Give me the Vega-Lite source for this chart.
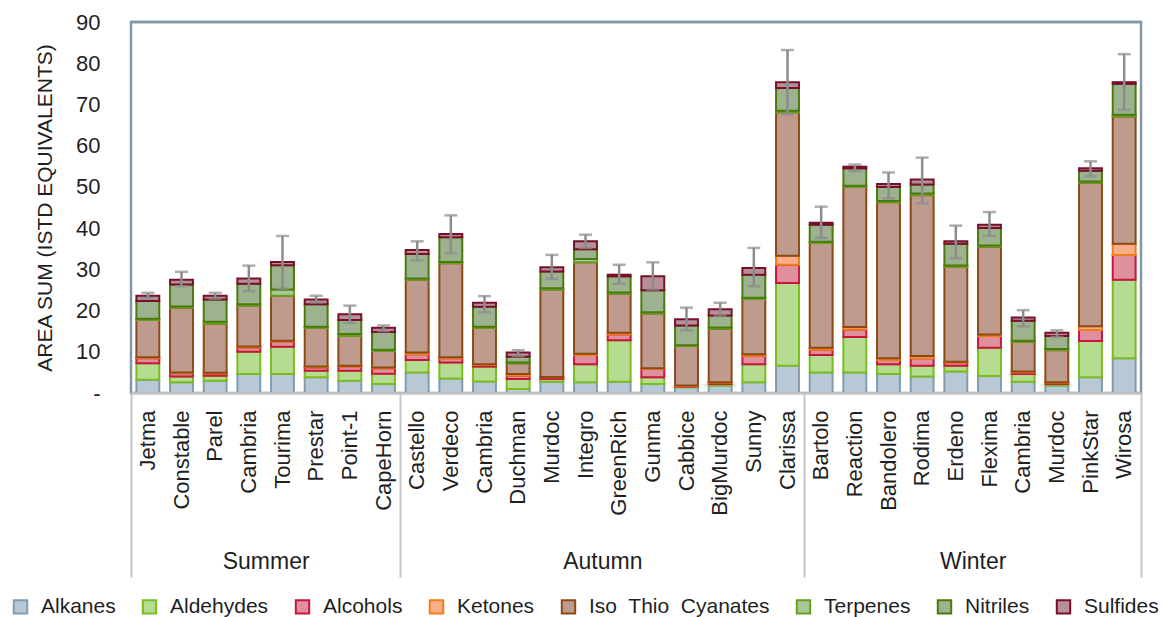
{
  "$schema": "https://vega.github.io/schema/vega-lite/v6.json",
  "width": 1010,
  "height": 371,
  "autosize": "none",
  "padding": {"left": 131, "top": 22, "right": 21, "bottom": 224},
  "background": "white",
  "config": {
    "font": "Liberation Sans",
    "view": {"stroke": "#8497a6", "strokeWidth": 2.5},
    "legend": {
      "orient": "none",
      "legendX": -121,
      "legendY": 574,
      "direction": "horizontal",
      "title": null,
      "padding": 0,
      "labelFontSize": 21,
      "labelColor": "#1f1f1f",
      "labelFont": "Liberation Sans",
      "symbolType": "square",
      "symbolSize": 180,
      "symbolStrokeWidth": 2,
      "labelOffset": 10,
      "columnPadding": 22,
      "labelLimit": 400
    }
  },
  "datasets": {
    "compounds": [
      {"compound": "Alkanes", "idx": 1},
      {"compound": "Aldehydes", "idx": 2},
      {"compound": "Alcohols", "idx": 3},
      {"compound": "Ketones", "idx": 4},
      {"compound": "Iso Thio Cyanates", "idx": 5},
      {"compound": "Terpenes", "idx": 6},
      {"compound": "Nitriles", "idx": 7},
      {"compound": "Sulfides", "idx": 8}
    ],
    "seasons": [
      {"season": "Summer", "start": 0, "end": 8},
      {"season": "Autumn", "start": 8, "end": 20},
      {"season": "Winter", "start": 20, "end": 30}
    ],
    "bars": [
      {"key": "Summer|Jetma", "season": "Summer", "Alkanes": 3.2, "Aldehydes": 4.0, "Alcohols": 1.2, "Ketones": 0.3, "Iso Thio Cyanates": 9.0, "Terpenes": 0.3, "Nitriles": 4.3, "Sulfides": 1.3, "lo": 23.0, "hi": 24.3},
      {"key": "Summer|Constable", "season": "Summer", "Alkanes": 2.6, "Aldehydes": 1.4, "Alcohols": 0.8, "Ketones": 0.2, "Iso Thio Cyanates": 15.7, "Terpenes": 0.3, "Nitriles": 5.3, "Sulfides": 1.2, "lo": 25.9, "hi": 29.4},
      {"key": "Summer|Parel", "season": "Summer", "Alkanes": 3.0, "Aldehydes": 1.2, "Alcohols": 0.5, "Ketones": 0.2, "Iso Thio Cyanates": 11.9, "Terpenes": 0.5, "Nitriles": 5.4, "Sulfides": 0.9, "lo": 22.9, "hi": 24.3},
      {"key": "Summer|Cambria", "season": "Summer", "Alkanes": 4.6, "Aldehydes": 5.4, "Alcohols": 1.0, "Ketones": 0.3, "Iso Thio Cyanates": 9.9, "Terpenes": 0.3, "Nitriles": 5.0, "Sulfides": 1.3, "lo": 24.7, "hi": 30.9},
      {"key": "Summer|Tourima", "season": "Summer", "Alkanes": 4.6, "Aldehydes": 6.6, "Alcohols": 1.3, "Ketones": 0.2, "Iso Thio Cyanates": 10.9, "Terpenes": 1.5, "Nitriles": 5.9, "Sulfides": 0.8, "lo": 25.3, "hi": 38.1},
      {"key": "Summer|Prestar", "season": "Summer", "Alkanes": 3.8, "Aldehydes": 1.6, "Alcohols": 0.8, "Ketones": 0.2, "Iso Thio Cyanates": 9.4, "Terpenes": 0.3, "Nitriles": 5.4, "Sulfides": 1.2, "lo": 22.0, "hi": 23.6},
      {"key": "Summer|Point-1", "season": "Summer", "Alkanes": 3.0, "Aldehydes": 2.4, "Alcohols": 1.0, "Ketones": 0.2, "Iso Thio Cyanates": 7.2, "Terpenes": 0.5, "Nitriles": 3.4, "Sulfides": 1.4, "lo": 17.0, "hi": 21.2},
      {"key": "Summer|CapeHorn", "season": "Summer", "Alkanes": 2.2, "Aldehydes": 2.5, "Alcohols": 1.3, "Ketones": 0.2, "Iso Thio Cyanates": 4.0, "Terpenes": 0.3, "Nitriles": 4.3, "Sulfides": 1.0, "lo": 15.0, "hi": 16.4},
      {"key": "Autumn|Castello", "season": "Autumn", "Alkanes": 5.0, "Aldehydes": 3.0, "Alcohols": 1.4, "Ketones": 0.4, "Iso Thio Cyanates": 17.7, "Terpenes": 0.3, "Nitriles": 5.9, "Sulfides": 1.0, "lo": 32.2, "hi": 36.8},
      {"key": "Autumn|Verdeco", "season": "Autumn", "Alkanes": 3.5, "Aldehydes": 3.9, "Alcohols": 1.0, "Ketones": 0.3, "Iso Thio Cyanates": 22.8, "Terpenes": 0.3, "Nitriles": 6.0, "Sulfides": 0.8, "lo": 33.9, "hi": 43.1},
      {"key": "Autumn|Cambria", "season": "Autumn", "Alkanes": 2.8, "Aldehydes": 3.6, "Alcohols": 0.4, "Ketones": 0.2, "Iso Thio Cyanates": 8.8, "Terpenes": 0.3, "Nitriles": 4.8, "Sulfides": 1.0, "lo": 19.6, "hi": 23.5},
      {"key": "Autumn|Duchman", "season": "Autumn", "Alkanes": 1.0, "Aldehydes": 2.4, "Alcohols": 0.8, "Ketones": 0.4, "Iso Thio Cyanates": 2.6, "Terpenes": 0.2, "Nitriles": 1.4, "Sulfides": 1.0, "lo": 8.9, "hi": 10.4},
      {"key": "Autumn|Murdoc", "season": "Autumn", "Alkanes": 2.7, "Aldehydes": 0.7, "Alcohols": 0.4, "Ketones": 0.1, "Iso Thio Cyanates": 21.2, "Terpenes": 0.3, "Nitriles": 4.1, "Sulfides": 1.0, "lo": 27.7, "hi": 33.5},
      {"key": "Autumn|Integro", "season": "Autumn", "Alkanes": 2.6, "Aldehydes": 4.4, "Alcohols": 2.2, "Ketones": 0.3, "Iso Thio Cyanates": 22.2, "Terpenes": 0.8, "Nitriles": 2.4, "Sulfides": 1.9, "lo": 35.2, "hi": 38.4},
      {"key": "Autumn|GreenRich", "season": "Autumn", "Alkanes": 2.7, "Aldehydes": 10.1, "Alcohols": 1.4, "Ketones": 0.4, "Iso Thio Cyanates": 9.5, "Terpenes": 0.3, "Nitriles": 3.9, "Sulfides": 0.4, "lo": 26.5, "hi": 31.1},
      {"key": "Autumn|Gunma", "season": "Autumn", "Alkanes": 2.2, "Aldehydes": 1.6, "Alcohols": 2.0, "Ketones": 0.2, "Iso Thio Cyanates": 13.3, "Terpenes": 0.3, "Nitriles": 5.3, "Sulfides": 3.4, "lo": 25.1, "hi": 31.7},
      {"key": "Autumn|Cabbice", "season": "Autumn", "Alkanes": 1.4, "Aldehydes": 0.1, "Alcohols": 0.1, "Ketones": 0.2, "Iso Thio Cyanates": 9.6, "Terpenes": 0.2, "Nitriles": 4.8, "Sulfides": 1.5, "lo": 15.2, "hi": 20.7},
      {"key": "Autumn|BigMurdoc", "season": "Autumn", "Alkanes": 1.8, "Aldehydes": 0.4, "Alcohols": 0.3, "Ketones": 0.1, "Iso Thio Cyanates": 13.0, "Terpenes": 0.3, "Nitriles": 2.9, "Sulfides": 1.5, "lo": 18.8, "hi": 21.9},
      {"key": "Autumn|Sunny", "season": "Autumn", "Alkanes": 2.6, "Aldehydes": 4.4, "Alcohols": 2.0, "Ketones": 0.4, "Iso Thio Cyanates": 13.4, "Terpenes": 0.3, "Nitriles": 5.6, "Sulfides": 1.6, "lo": 25.9, "hi": 35.2},
      {"key": "Autumn|Clarissa", "season": "Autumn", "Alkanes": 6.6, "Aldehydes": 20.1, "Alcohols": 4.4, "Ketones": 2.2, "Iso Thio Cyanates": 34.8, "Terpenes": 0.4, "Nitriles": 5.5, "Sulfides": 1.4, "lo": 67.6, "hi": 83.2},
      {"key": "Winter|Bartolo", "season": "Winter", "Alkanes": 5.0, "Aldehydes": 4.2, "Alcohols": 1.3, "Ketones": 0.5, "Iso Thio Cyanates": 25.4, "Terpenes": 0.3, "Nitriles": 4.1, "Sulfides": 0.5, "lo": 37.6, "hi": 45.2},
      {"key": "Winter|Reaction", "season": "Winter", "Alkanes": 5.0, "Aldehydes": 8.6, "Alcohols": 1.8, "Ketones": 0.6, "Iso Thio Cyanates": 34.0, "Terpenes": 0.3, "Nitriles": 4.2, "Sulfides": 0.4, "lo": 53.8, "hi": 55.4},
      {"key": "Winter|Bandolero", "season": "Winter", "Alkanes": 4.6, "Aldehydes": 2.4, "Alcohols": 1.0, "Ketones": 0.4, "Iso Thio Cyanates": 37.9, "Terpenes": 0.3, "Nitriles": 3.4, "Sulfides": 0.7, "lo": 47.2, "hi": 53.5},
      {"key": "Winter|Rodima", "season": "Winter", "Alkanes": 4.0, "Aldehydes": 2.6, "Alcohols": 1.8, "Ketones": 0.6, "Iso Thio Cyanates": 39.0, "Terpenes": 0.4, "Nitriles": 2.2, "Sulfides": 1.2, "lo": 46.0, "hi": 57.1},
      {"key": "Winter|Erdeno", "season": "Winter", "Alkanes": 5.2, "Aldehydes": 1.4, "Alcohols": 0.8, "Ketones": 0.2, "Iso Thio Cyanates": 23.0, "Terpenes": 0.3, "Nitriles": 5.3, "Sulfides": 0.6, "lo": 32.7, "hi": 40.6},
      {"key": "Winter|Flexima", "season": "Winter", "Alkanes": 4.1, "Aldehydes": 6.9, "Alcohols": 2.8, "Ketones": 0.4, "Iso Thio Cyanates": 21.3, "Terpenes": 0.3, "Nitriles": 4.2, "Sulfides": 0.8, "lo": 38.1, "hi": 43.9},
      {"key": "Winter|Cambria", "season": "Winter", "Alkanes": 2.7, "Aldehydes": 1.9, "Alcohols": 0.4, "Ketones": 0.2, "Iso Thio Cyanates": 7.2, "Terpenes": 0.3, "Nitriles": 4.8, "Sulfides": 0.8, "lo": 16.2, "hi": 20.1},
      {"key": "Winter|Murdoc", "season": "Winter", "Alkanes": 1.8, "Aldehydes": 0.4, "Alcohols": 0.3, "Ketones": 0.1, "Iso Thio Cyanates": 7.8, "Terpenes": 0.3, "Nitriles": 3.1, "Sulfides": 0.8, "lo": 13.6, "hi": 15.2},
      {"key": "Winter|PinkStar", "season": "Winter", "Alkanes": 3.8, "Aldehydes": 8.8, "Alcohols": 2.7, "Ketones": 0.9, "Iso Thio Cyanates": 34.8, "Terpenes": 0.3, "Nitriles": 2.6, "Sulfides": 0.6, "lo": 52.6, "hi": 56.2},
      {"key": "Winter|Wirosa", "season": "Winter", "Alkanes": 8.4, "Aldehydes": 19.1, "Alcohols": 6.0, "Ketones": 2.7, "Iso Thio Cyanates": 30.9, "Terpenes": 0.4, "Nitriles": 7.5, "Sulfides": 0.4, "lo": 68.7, "hi": 82.2}
    ]
  },
  "layer": [
    {
      "data": {"name": "bars"},
      "layer": [
        {
          "transform": [
            {"fold": ["Alkanes", "Aldehydes", "Alcohols", "Ketones", "Iso Thio Cyanates", "Terpenes", "Nitriles", "Sulfides"], "as": ["compound", "value"]},
            {"lookup": "compound", "from": {"data": {"name": "compounds"}, "key": "compound", "fields": ["idx"]}}
          ],
          "mark": {"type": "bar", "strokeWidth": 2},
          "encoding": {
            "x": {
              "field": "key", "type": "nominal", "sort": null,
              "scale": {"paddingInner": 0.32, "paddingOuter": 0.16},
              "axis": {
                "title": null,
                "labelExpr": "split(datum.label, '|')[1]",
                "labelAngle": -90,
                "labelFontSize": 22,
                "labelColor": "#1f1f1f",
                "labelPadding": 17,
                "labelLimit": 300,
                "ticks": false,
                "domain": true,
                "domainColor": "#c6c6c6",
                "domainWidth": 2.5,
                "zindex": 1
              }
            },
            "y": {
              "field": "value", "type": "quantitative", "stack": "zero",
              "title": "AREA SUM (ISTD EQUIVALENTS)",
              "scale": {"domain": [0, 90], "nice": false},
              "axis": {
                "values": [0, 10, 20, 30, 40, 50, 60, 70, 80, 90],
                "labelExpr": "datum.value == 0 ? '-' : datum.label",
                "grid": false,
                "ticks": false,
                "domain": false,
                "labelFontSize": 22,
                "labelColor": "#1f1f1f",
                "labelPadding": 31,
                "titleFontSize": 21,
                "titleFontWeight": "normal",
                "titleColor": "#1f1f1f",
                "titlePadding": 20
              }
            },
            "fill": {
              "field": "compound", "type": "nominal",
              "scale": {
                "domain": ["Alkanes", "Aldehydes", "Alcohols", "Ketones", "Iso Thio Cyanates", "Terpenes", "Nitriles", "Sulfides"],
                "range": ["#b8c8d4", "#b6dc92", "#e0909d", "#fbaf88", "#bf9b8e", "#aac895", "#9db390", "#b78f99"]
              },
              "legend": {"labelExpr": "datum.label == 'Iso Thio Cyanates' ? 'Iso\u00a0 Thio\u00a0 Cyanates' : datum.label"}
            },
            "stroke": {
              "field": "compound", "type": "nominal",
              "scale": {
                "domain": ["Alkanes", "Aldehydes", "Alcohols", "Ketones", "Iso Thio Cyanates", "Terpenes", "Nitriles", "Sulfides"],
                "range": ["#7f9cb1", "#79bd1e", "#c8163e", "#ef7d1a", "#8a4a14", "#67a020", "#4b7a0c", "#78102a"]
              },
              "legend": {"labelExpr": "datum.label == 'Iso Thio Cyanates' ? 'Iso\u00a0 Thio\u00a0 Cyanates' : datum.label"}
            },
            "order": {"field": "idx", "type": "quantitative"}
          }
        },
        {
          "mark": {"type": "rule", "color": "#8c8c8c", "strokeWidth": 2.5},
          "encoding": {
            "x": {"field": "key", "type": "nominal", "sort": null},
            "y": {"field": "lo", "type": "quantitative", "title": "AREA SUM (ISTD EQUIVALENTS)"},
            "y2": {"field": "hi"}
          }
        },
        {
          "mark": {"type": "tick", "color": "#8c8c8c", "size": 13, "thickness": 2.5},
          "encoding": {
            "x": {"field": "key", "type": "nominal", "sort": null},
            "y": {"field": "lo", "type": "quantitative", "title": "AREA SUM (ISTD EQUIVALENTS)"}
          }
        },
        {
          "mark": {"type": "tick", "color": "#8c8c8c", "size": 13, "thickness": 2.5},
          "encoding": {
            "x": {"field": "key", "type": "nominal", "sort": null},
            "y": {"field": "hi", "type": "quantitative", "title": "AREA SUM (ISTD EQUIVALENTS)"}
          }
        }
      ]
    },
    {
      "data": {"name": "seasons"},
      "mark": {"type": "rule", "color": "#8497a6", "strokeWidth": 2.5},
      "encoding": {
        "x": {
          "field": "start", "type": "quantitative",
          "scale": {"domain": [0, 30], "nice": false, "zero": false},
          "axis": {
            "orient": "bottom",
            "title": null,
            "values": [0, 4, 8, 14, 20, 25, 30],
            "labelExpr": "datum.value == 4 ? 'Summer' : datum.value == 14 ? 'Autumn' : datum.value == 25 ? 'Winter' : ''",
            "labelFontSize": 23,
            "labelColor": "#1f1f1f",
            "labelAngle": 0,
            "labelFlush": false,
            "labelOverlap": false,
            "labelBaseline": "middle",
            "labelPadding": -16,
            "grid": false,
            "domain": false,
            "tickSize": 184,
            "tickColor": "#c4c4c4",
            "tickWidth": 2,
            "tickOpacity": {"condition": {"test": "datum.value == 4 || datum.value == 14 || datum.value == 25", "value": 0}, "value": 1}
          }
        },
        "x2": {"field": "end"},
        "y": {"datum": 90, "type": "quantitative"}
      }
    }
  ],
  "resolve": {"scale": {"x": "independent"}, "axis": {"x": "independent"}}
}
